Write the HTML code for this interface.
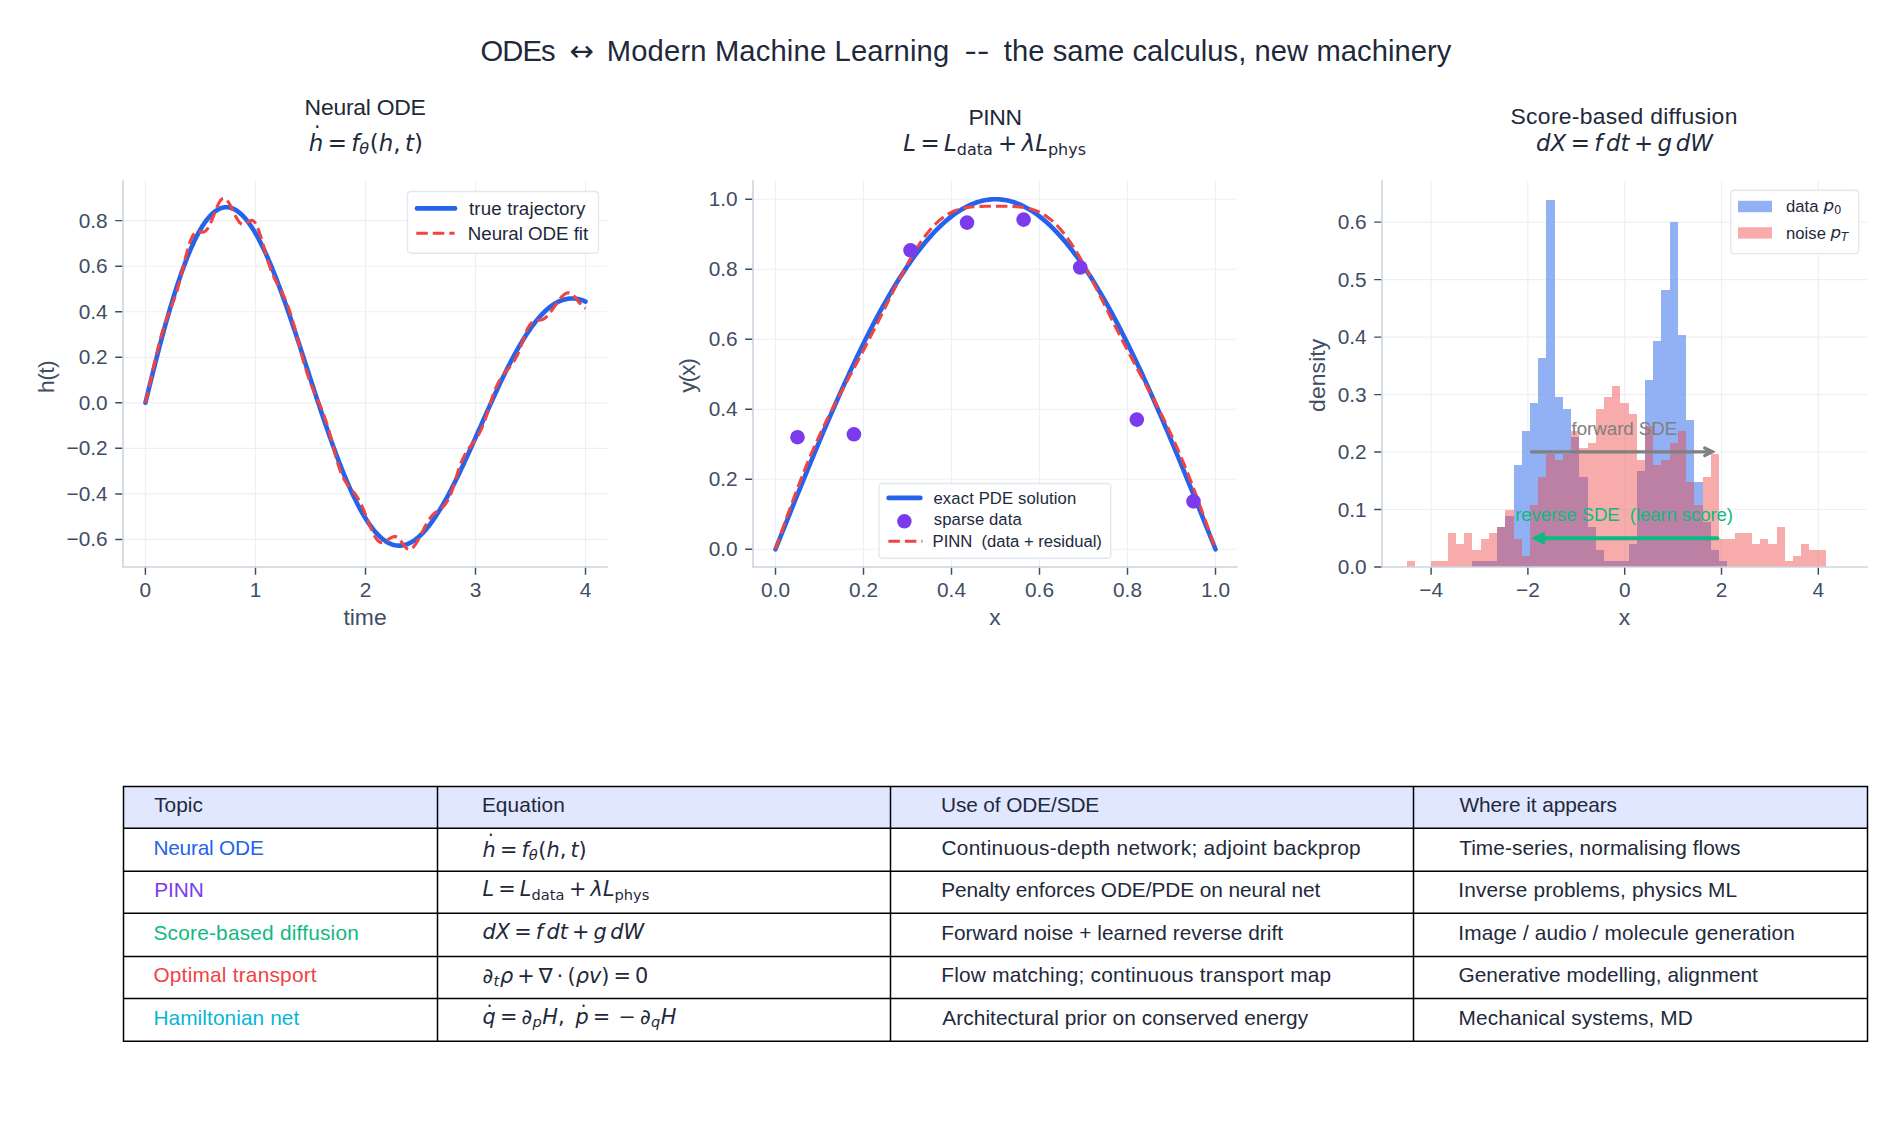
<!DOCTYPE html>
<html lang="en"><head><meta charset="utf-8"><title>ODEs and Modern Machine Learning</title>
<style>html,body{margin:0;padding:0;background:#fff;}svg{display:block;}svg text{white-space:pre;}</style></head>
<body>
<svg width="1904" height="1143" viewBox="0 0 1904 1143" font-family='"Liberation Sans", Arial, Helvetica, sans-serif'>
<rect width="1904" height="1143" fill="#ffffff"/>
<text x="480.41" y="61.4" font-size="29.17" fill="#1e293b" letter-spacing="-0.868" xml:space="preserve">ODEs</text>
<text x="569.6" y="61.4" font-size="29.17" fill="#1e293b" font-family='"DejaVu Sans", sans-serif' xml:space="preserve">↔</text>
<text x="606.79" y="61.4" font-size="29.17" fill="#1e293b" letter-spacing="0.166" xml:space="preserve">Modern Machine Learning</text>
<text x="964.64" y="61.4" font-size="29.17" fill="#1e293b" textLength="24.56" lengthAdjust="spacingAndGlyphs">--</text>
<text x="1003.86" y="61.4" font-size="29.17" fill="#1e293b" letter-spacing="0.060" xml:space="preserve">the same calculus, new machinery</text>
<path d="M145.4,181 V567 M255.5,181 V567 M365.5,181 V567 M475.5,181 V567 M585.5,181 V567 M123,539.4 H607 M123,493.9 H607 M123,448.3 H607 M123,402.8 H607 M123,357.3 H607 M123,311.7 H607 M123,266.2 H607 M123,220.6 H607 " stroke="#8fa0c0" stroke-opacity="0.17" stroke-width="1.15" fill="none"/>
<path d="M145.45,402.8 L146.55,398.26 L147.65,393.73 L148.75,389.23 L149.85,384.75 L150.95,380.29 L152.05,375.87 L153.15,371.47 L154.25,367.1 L155.35,362.76 L156.45,358.46 L157.55,354.19 L158.65,349.96 L159.75,345.77 L160.85,341.61 L161.95,337.5 L163.05,333.43 L164.15,329.4 L165.25,325.42 L166.35,321.49 L167.45,317.61 L168.55,313.77 L169.65,309.99 L170.75,306.26 L171.85,302.58 L172.95,298.96 L174.06,295.39 L175.16,291.89 L176.26,288.44 L177.36,285.05 L178.46,281.72 L179.56,278.45 L180.66,275.25 L181.76,272.11 L182.86,269.04 L183.96,266.03 L185.06,263.09 L186.16,260.22 L187.26,257.41 L188.36,254.68 L189.46,252.02 L190.56,249.42 L191.66,246.91 L192.76,244.46 L193.86,242.09 L194.96,239.79 L196.06,237.56 L197.16,235.42 L198.26,233.34 L199.36,231.35 L200.46,229.43 L201.56,227.59 L202.66,225.83 L203.76,224.14 L204.86,222.54 L205.96,221.01 L207.06,219.56 L208.16,218.2 L209.26,216.91 L210.36,215.7 L211.46,214.57 L212.56,213.53 L213.66,212.56 L214.76,211.67 L215.86,210.87 L216.96,210.14 L218.06,209.5 L219.16,208.94 L220.26,208.45 L221.36,208.05 L222.46,207.73 L223.56,207.48 L224.66,207.32 L225.76,207.24 L226.86,207.23 L227.96,207.31 L229.07,207.46 L230.17,207.69 L231.27,208 L232.37,208.39 L233.47,208.85 L234.57,209.39 L235.67,210 L236.77,210.69 L237.87,211.46 L238.97,212.3 L240.07,213.21 L241.17,214.2 L242.27,215.25 L243.37,216.38 L244.47,217.58 L245.57,218.85 L246.67,220.19 L247.77,221.6 L248.87,223.07 L249.97,224.61 L251.07,226.22 L252.17,227.89 L253.27,229.63 L254.37,231.42 L255.47,233.28 L256.57,235.21 L257.67,237.19 L258.77,239.23 L259.87,241.32 L260.97,243.48 L262.07,245.69 L263.17,247.95 L264.27,250.27 L265.37,252.64 L266.47,255.06 L267.57,257.53 L268.67,260.05 L269.77,262.62 L270.87,265.23 L271.97,267.89 L273.07,270.59 L274.17,273.34 L275.27,276.12 L276.37,278.95 L277.47,281.81 L278.57,284.72 L279.67,287.65 L280.77,290.63 L281.87,293.63 L282.98,296.67 L284.08,299.74 L285.18,302.84 L286.28,305.96 L287.38,309.12 L288.48,312.29 L289.58,315.5 L290.68,318.72 L291.78,321.96 L292.88,325.23 L293.98,328.51 L295.08,331.81 L296.18,335.13 L297.28,338.46 L298.38,341.8 L299.48,345.15 L300.58,348.51 L301.68,351.89 L302.78,355.26 L303.88,358.65 L304.98,362.04 L306.08,365.43 L307.18,368.82 L308.28,372.21 L309.38,375.61 L310.48,379 L311.58,382.38 L312.68,385.76 L313.78,389.13 L314.88,392.5 L315.98,395.86 L317.08,399.2 L318.18,402.54 L319.28,405.86 L320.38,409.16 L321.48,412.45 L322.58,415.73 L323.68,418.98 L324.78,422.22 L325.88,425.43 L326.98,428.62 L328.08,431.79 L329.18,434.94 L330.28,438.06 L331.38,441.15 L332.48,444.22 L333.58,447.25 L334.68,450.26 L335.78,453.23 L336.88,456.18 L337.99,459.09 L339.09,461.96 L340.19,464.8 L341.29,467.6 L342.39,470.37 L343.49,473.1 L344.59,475.79 L345.69,478.44 L346.79,481.04 L347.89,483.61 L348.99,486.13 L350.09,488.61 L351.19,491.05 L352.29,493.44 L353.39,495.78 L354.49,498.08 L355.59,500.32 L356.69,502.53 L357.79,504.68 L358.89,506.78 L359.99,508.83 L361.09,510.83 L362.19,512.78 L363.29,514.68 L364.39,516.52 L365.49,518.31 L366.59,520.05 L367.69,521.73 L368.79,523.36 L369.89,524.93 L370.99,526.45 L372.09,527.91 L373.19,529.32 L374.29,530.67 L375.39,531.96 L376.49,533.2 L377.59,534.37 L378.69,535.49 L379.79,536.55 L380.89,537.56 L381.99,538.5 L383.09,539.39 L384.19,540.22 L385.29,540.99 L386.39,541.7 L387.49,542.35 L388.59,542.94 L389.69,543.48 L390.79,543.95 L391.89,544.37 L393,544.73 L394.1,545.02 L395.2,545.26 L396.3,545.45 L397.4,545.57 L398.5,545.64 L399.6,545.64 L400.7,545.59 L401.8,545.49 L402.9,545.32 L404,545.1 L405.1,544.82 L406.2,544.49 L407.3,544.1 L408.4,543.66 L409.5,543.16 L410.6,542.6 L411.7,541.99 L412.8,541.33 L413.9,540.62 L415,539.85 L416.1,539.03 L417.2,538.15 L418.3,537.23 L419.4,536.26 L420.5,535.23 L421.6,534.16 L422.7,533.04 L423.8,531.87 L424.9,530.65 L426,529.39 L427.1,528.08 L428.2,526.72 L429.3,525.33 L430.4,523.88 L431.5,522.4 L432.6,520.87 L433.7,519.3 L434.8,517.69 L435.9,516.03 L437,514.34 L438.1,512.62 L439.2,510.85 L440.3,509.05 L441.4,507.21 L442.5,505.34 L443.6,503.43 L444.7,501.49 L445.8,499.52 L446.9,497.52 L448,495.49 L449.11,493.43 L450.21,491.34 L451.31,489.22 L452.41,487.07 L453.51,484.91 L454.61,482.71 L455.71,480.49 L456.81,478.25 L457.91,475.99 L459.01,473.71 L460.11,471.41 L461.21,469.09 L462.31,466.75 L463.41,464.4 L464.51,462.03 L465.61,459.65 L466.71,457.25 L467.81,454.84 L468.91,452.42 L470.01,449.99 L471.11,447.55 L472.21,445.1 L473.31,442.65 L474.41,440.18 L475.51,437.72 L476.61,435.25 L477.71,432.77 L478.81,430.29 L479.91,427.82 L481.01,425.34 L482.11,422.86 L483.21,420.38 L484.31,417.91 L485.41,415.44 L486.51,412.98 L487.61,410.52 L488.71,408.07 L489.81,405.62 L490.91,403.19 L492.01,400.76 L493.11,398.35 L494.21,395.94 L495.31,393.55 L496.41,391.17 L497.51,388.81 L498.61,386.46 L499.71,384.12 L500.81,381.81 L501.91,379.51 L503.01,377.23 L504.12,374.97 L505.22,372.73 L506.32,370.51 L507.42,368.31 L508.52,366.14 L509.62,363.98 L510.72,361.86 L511.82,359.75 L512.92,357.68 L514.02,355.63 L515.12,353.61 L516.22,351.61 L517.32,349.64 L518.42,347.71 L519.52,345.8 L520.62,343.92 L521.72,342.08 L522.82,340.27 L523.92,338.48 L525.02,336.74 L526.12,335.02 L527.22,333.34 L528.32,331.7 L529.42,330.09 L530.52,328.51 L531.62,326.97 L532.72,325.47 L533.82,324.01 L534.92,322.58 L536.02,321.19 L537.12,319.84 L538.22,318.53 L539.32,317.26 L540.42,316.03 L541.52,314.84 L542.62,313.68 L543.72,312.57 L544.82,311.5 L545.92,310.47 L547.02,309.48 L548.12,308.53 L549.22,307.63 L550.32,306.77 L551.42,305.94 L552.52,305.17 L553.62,304.43 L554.72,303.74 L555.82,303.08 L556.92,302.48 L558.02,301.91 L559.13,301.39 L560.23,300.91 L561.33,300.47 L562.43,300.08 L563.53,299.73 L564.63,299.42 L565.73,299.16 L566.83,298.93 L567.93,298.76 L569.03,298.62 L570.13,298.53 L571.23,298.47 L572.33,298.47 L573.43,298.5 L574.53,298.57 L575.63,298.69 L576.73,298.85 L577.83,299.05 L578.93,299.29 L580.03,299.57 L581.13,299.89 L582.23,300.25 L583.33,300.65 L584.43,301.1 L585.53,301.58" stroke="#2563eb" stroke-width="4.6" fill="none" stroke-linecap="round" stroke-linejoin="round"/>
<path d="M145.45,402.8 L146.55,398.19 L147.65,393.49 L148.75,388.7 L149.85,383.83 L150.95,378.92 L152.05,373.99 L153.15,369.06 L154.25,364.17 L155.35,359.35 L156.45,354.62 L157.55,350.01 L158.65,345.54 L159.75,341.23 L160.85,337.08 L161.95,333.18 L163.05,329.53 L164.15,326.1 L165.25,322.87 L166.35,319.81 L167.45,316.87 L168.55,314.02 L169.65,311.21 L170.75,308.39 L171.85,305.53 L172.95,302.58 L174.06,299.53 L175.16,296.33 L176.26,292.99 L177.36,289.43 L178.46,285.61 L179.56,281.54 L180.66,277.27 L181.76,272.86 L182.86,268.37 L183.96,263.87 L185.06,259.43 L186.16,255.14 L187.26,251.06 L188.36,247.26 L189.46,243.8 L190.56,240.71 L191.66,238.03 L192.76,235.81 L193.86,234.13 L194.96,232.94 L196.06,232.2 L197.16,231.82 L198.26,231.72 L199.36,231.8 L200.46,231.96 L201.56,232.1 L202.66,232.1 L203.76,231.9 L204.86,231.4 L205.96,230.57 L207.06,229.35 L208.16,227.77 L209.26,225.84 L210.36,223.59 L211.46,221.07 L212.56,218.36 L213.66,215.51 L214.76,212.62 L215.86,209.79 L216.96,207.11 L218.06,204.66 L219.16,202.52 L220.26,200.79 L221.36,199.5 L222.46,198.7 L223.56,198.41 L224.66,198.57 L225.76,199.16 L226.86,200.15 L227.96,201.51 L229.07,203.18 L230.17,205.11 L231.27,207.23 L232.37,209.47 L233.47,211.76 L234.57,214.02 L235.67,216.2 L236.77,218.22 L237.87,220.05 L238.97,221.63 L240.07,222.94 L241.17,223.94 L242.27,224.52 L243.37,224.66 L244.47,224.42 L245.57,223.88 L246.67,223.13 L247.77,222.29 L248.87,221.47 L249.97,220.81 L251.07,220.43 L252.17,220.42 L253.27,220.89 L254.37,221.9 L255.47,223.49 L256.57,225.57 L257.67,228.01 L258.77,230.8 L259.87,233.91 L260.97,237.27 L262.07,240.85 L263.17,244.58 L264.27,248.4 L265.37,252.24 L266.47,256.03 L267.57,259.71 L268.67,263.24 L269.77,266.55 L270.87,269.63 L271.97,272.44 L273.07,275.05 L274.17,277.53 L275.27,279.87 L276.37,282.1 L277.47,284.25 L278.57,286.33 L279.67,288.38 L280.77,290.44 L281.87,292.54 L282.98,294.72 L284.08,297 L285.18,299.43 L286.28,302.02 L287.38,304.8 L288.48,307.77 L289.58,310.96 L290.68,314.33 L291.78,317.89 L292.88,321.62 L293.98,325.5 L295.08,329.51 L296.18,333.62 L297.28,337.8 L298.38,342.02 L299.48,346.24 L300.58,350.43 L301.68,354.56 L302.78,358.59 L303.88,362.51 L304.98,366.29 L306.08,369.91 L307.18,373.37 L308.28,376.68 L309.38,379.83 L310.48,382.83 L311.58,385.7 L312.68,388.46 L313.78,391.12 L314.88,393.7 L315.98,396.23 L317.08,398.74 L318.18,401.26 L319.28,403.8 L320.38,406.4 L321.48,409.07 L322.58,411.85 L323.68,414.73 L324.78,417.74 L325.88,420.88 L326.98,424.21 L328.08,427.79 L329.18,431.6 L330.28,435.6 L331.38,439.73 L332.48,443.95 L333.58,448.18 L334.68,452.36 L335.78,456.43 L336.88,460.33 L337.99,463.99 L339.09,467.38 L340.19,470.47 L341.29,473.26 L342.39,475.8 L343.49,478.09 L344.59,480.16 L345.69,482.02 L346.79,483.71 L347.89,485.24 L348.99,486.65 L350.09,487.99 L351.19,489.28 L352.29,490.56 L353.39,491.88 L354.49,493.27 L355.59,494.74 L356.69,496.34 L357.79,498.08 L358.89,499.97 L359.99,502.03 L361.09,504.25 L362.19,506.63 L363.29,509.16 L364.39,511.82 L365.49,514.57 L366.59,517.38 L367.69,520.21 L368.79,523.03 L369.89,525.78 L370.99,528.44 L372.09,530.95 L373.19,533.29 L374.29,535.41 L375.39,537.3 L376.49,538.93 L377.59,540.28 L378.69,541.35 L379.79,542.08 L380.89,542.49 L381.99,542.61 L383.09,542.45 L384.19,542.08 L385.29,541.52 L386.39,540.83 L387.49,540.06 L388.59,539.27 L389.69,538.51 L390.79,537.82 L391.89,537.26 L393,536.86 L394.1,536.64 L395.2,536.63 L396.3,536.87 L397.4,537.43 L398.5,538.3 L399.6,539.45 L400.7,540.81 L401.8,542.31 L402.9,543.86 L404,545.38 L405.1,546.78 L406.2,547.96 L407.3,548.86 L408.4,549.39 L409.5,549.52 L410.6,549.2 L411.7,548.52 L412.8,547.58 L413.9,546.41 L415,545.01 L416.1,543.41 L417.2,541.63 L418.3,539.7 L419.4,537.65 L420.5,535.52 L421.6,533.33 L422.7,531.13 L423.8,528.94 L424.9,526.81 L426,524.75 L427.1,522.8 L428.2,520.97 L429.3,519.28 L430.4,517.73 L431.5,516.34 L432.6,515.1 L433.7,514 L434.8,513.02 L435.9,512.13 L437,511.33 L438.1,510.56 L439.2,509.8 L440.3,509.01 L441.4,508.17 L442.5,507.22 L443.6,506.14 L444.7,504.9 L445.8,503.48 L446.9,501.86 L448,500.02 L449.11,497.94 L450.21,495.49 L451.31,492.69 L452.41,489.56 L453.51,486.19 L454.61,482.64 L455.71,479 L456.81,475.36 L457.91,471.8 L459.01,468.42 L460.11,465.28 L461.21,462.44 L462.31,459.92 L463.41,457.66 L464.51,455.55 L465.61,453.6 L466.71,451.78 L467.81,450.09 L468.91,448.5 L470.01,446.98 L471.11,445.51 L472.21,444.06 L473.31,442.61 L474.41,441.11 L475.51,439.54 L476.61,437.88 L477.71,436.09 L478.81,434.17 L479.91,432.08 L481.01,429.83 L482.11,427.41 L483.21,424.76 L484.31,421.87 L485.41,418.77 L486.51,415.5 L487.61,412.09 L488.71,408.6 L489.81,405.09 L490.91,401.62 L492.01,398.24 L493.11,395.01 L494.21,391.98 L495.31,389.17 L496.41,386.62 L497.51,384.3 L498.61,382.16 L499.71,380.18 L500.81,378.36 L501.91,376.69 L503.01,375.13 L504.12,373.68 L505.22,372.31 L506.32,370.99 L507.42,369.69 L508.52,368.39 L509.62,367.06 L510.72,365.68 L511.82,364.22 L512.92,362.67 L514.02,361.01 L515.12,359.22 L516.22,357.3 L517.32,355.16 L518.42,352.71 L519.52,349.99 L520.62,347.06 L521.72,343.97 L522.82,340.84 L523.92,337.73 L525.02,334.74 L526.12,331.97 L527.22,329.48 L528.32,327.32 L529.42,325.53 L530.52,324.08 L531.62,322.91 L532.72,322.01 L533.82,321.34 L534.92,320.87 L536.02,320.57 L537.12,320.39 L538.22,320.27 L539.32,320.16 L540.42,320.01 L541.52,319.78 L542.62,319.43 L543.72,318.91 L544.82,318.21 L545.92,317.3 L547.02,316.23 L548.12,315.05 L549.22,313.76 L550.32,312.38 L551.42,310.91 L552.52,309.37 L553.62,307.78 L554.72,306.16 L555.82,304.54 L556.92,302.93 L558.02,301.37 L559.13,299.87 L560.23,298.47 L561.33,297.18 L562.43,296.03 L563.53,295.03 L564.63,294.2 L565.73,293.55 L566.83,293.09 L567.93,292.84 L569.03,292.82 L570.13,293.09 L571.23,293.63 L572.33,294.41 L573.43,295.41 L574.53,296.59 L575.63,297.9 L576.73,299.3 L577.83,300.75 L578.93,302.18 L580.03,303.57 L581.13,304.85 L582.23,306.01 L583.33,307 L584.43,307.8 L585.53,308.41" stroke="#ef4444" stroke-width="3.1" fill="none" stroke-dasharray="11.5 5" stroke-linejoin="round"/>
<path d="M123,180.2 V567.8" stroke="#cbd5e1" stroke-width="1.6" fill="none"/>
<path d="M122.2,567 H607.8" stroke="#cbd5e1" stroke-width="1.6" fill="none"/>
<path d="M145.4,567.8 v7 M255.5,567.8 v7 M365.5,567.8 v7 M475.5,567.8 v7 M585.5,567.8 v7 M122.2,539.4 h-7 M122.2,493.9 h-7 M122.2,448.3 h-7 M122.2,402.8 h-7 M122.2,357.3 h-7 M122.2,311.7 h-7 M122.2,266.2 h-7 M122.2,220.6 h-7 " stroke="#3d4b60" stroke-width="1.45" fill="none"/>
<text x="145.4" y="597.0" font-size="20.83" fill="#404e64" text-anchor="middle" xml:space="preserve">0</text>
<text x="255.5" y="597.0" font-size="20.83" fill="#404e64" text-anchor="middle" xml:space="preserve">1</text>
<text x="365.5" y="597.0" font-size="20.83" fill="#404e64" text-anchor="middle" xml:space="preserve">2</text>
<text x="475.5" y="597.0" font-size="20.83" fill="#404e64" text-anchor="middle" xml:space="preserve">3</text>
<text x="585.5" y="597.0" font-size="20.83" fill="#404e64" text-anchor="middle" xml:space="preserve">4</text>
<text x="107.7" y="546.4" font-size="20.83" fill="#404e64" text-anchor="end" xml:space="preserve">−0.6</text>
<text x="107.7" y="500.9" font-size="20.83" fill="#404e64" text-anchor="end" xml:space="preserve">−0.4</text>
<text x="107.7" y="455.3" font-size="20.83" fill="#404e64" text-anchor="end" xml:space="preserve">−0.2</text>
<text x="107.7" y="409.8" font-size="20.83" fill="#404e64" text-anchor="end" xml:space="preserve">0.0</text>
<text x="107.7" y="364.3" font-size="20.83" fill="#404e64" text-anchor="end" xml:space="preserve">0.2</text>
<text x="107.7" y="318.7" font-size="20.83" fill="#404e64" text-anchor="end" xml:space="preserve">0.4</text>
<text x="107.7" y="273.2" font-size="20.83" fill="#404e64" text-anchor="end" xml:space="preserve">0.6</text>
<text x="107.7" y="227.6" font-size="20.83" fill="#404e64" text-anchor="end" xml:space="preserve">0.8</text>
<text x="365.0" y="624.5" font-size="22.9" fill="#404e64" text-anchor="middle" xml:space="preserve">time</text>
<text transform="translate(54.0,393.00) rotate(-90)" font-size="22.9" fill="#404e64" letter-spacing="-0.558">h(t)</text>
<rect x="407.5" y="191.5" width="191.0" height="61.80000000000001" rx="3.5" fill="#ffffff" fill-opacity="0.92" stroke="#e2e8f0" stroke-width="1.4"/>
<path d="M417,208.4 H455" stroke="#2563eb" stroke-width="4.6" stroke-linecap="round"/>
<path d="M416.3,233.3 H454.6" stroke="#ef4444" stroke-width="3.1" stroke-dasharray="11.5 5"/>
<text x="469.02" y="215.0" font-size="18.75" fill="#1e293b" letter-spacing="0.123" xml:space="preserve">true trajectory</text>
<text x="467.85" y="240.2" font-size="18.75" fill="#1e293b" letter-spacing="-0.043" xml:space="preserve">Neural ODE fit</text>
<text x="304.61" y="114.9" font-size="22.9" fill="#1e293b" letter-spacing="-0.236" xml:space="preserve">Neural ODE</text>
<path d="M775.5,181 V567 M863.5,181 V567 M951.5,181 V567 M1039.5,181 V567 M1127.5,181 V567 M1215.5,181 V567 M753,549.2 H1237 M753,479.2 H1237 M753,409.2 H1237 M753,339.2 H1237 M753,269.2 H1237 M753,199.2 H1237 " stroke="#8fa0c0" stroke-opacity="0.17" stroke-width="1.15" fill="none"/>
<path d="M775.5,549.25 L777.7,543.75 L779.9,538.26 L782.1,532.76 L784.3,527.27 L786.5,521.79 L788.7,516.31 L790.9,510.84 L793.1,505.38 L795.3,499.93 L797.5,494.5 L799.7,489.07 L801.9,483.67 L804.1,478.27 L806.3,472.9 L808.5,467.54 L810.7,462.21 L812.9,456.89 L815.1,451.6 L817.3,446.34 L819.5,441.09 L821.7,435.88 L823.9,430.69 L826.1,425.53 L828.3,420.41 L830.5,415.31 L832.7,410.25 L834.9,405.22 L837.1,400.23 L839.3,395.27 L841.5,390.35 L843.7,385.47 L845.9,380.64 L848.1,375.84 L850.3,371.09 L852.5,366.38 L854.7,361.71 L856.9,357.09 L859.1,352.52 L861.3,348 L863.5,343.53 L865.7,339.1 L867.9,334.73 L870.1,330.42 L872.3,326.15 L874.5,321.94 L876.7,317.79 L878.9,313.7 L881.1,309.66 L883.3,305.68 L885.5,301.76 L887.7,297.91 L889.9,294.11 L892.1,290.38 L894.3,286.71 L896.5,283.11 L898.7,279.57 L900.9,276.1 L903.1,272.7 L905.3,269.36 L907.5,266.09 L909.7,262.9 L911.9,259.77 L914.1,256.72 L916.3,253.74 L918.5,250.83 L920.7,247.99 L922.9,245.23 L925.1,242.54 L927.3,239.93 L929.5,237.4 L931.7,234.94 L933.9,232.56 L936.1,230.26 L938.3,228.04 L940.5,225.89 L942.7,223.83 L944.9,221.84 L947.1,219.94 L949.3,218.12 L951.5,216.38 L953.7,214.72 L955.9,213.15 L958.1,211.65 L960.3,210.25 L962.5,208.92 L964.7,207.68 L966.9,206.52 L969.1,205.45 L971.3,204.46 L973.5,203.56 L975.7,202.74 L977.9,202.01 L980.1,201.36 L982.3,200.8 L984.5,200.33 L986.7,199.94 L988.9,199.64 L991.1,199.42 L993.3,199.29 L995.5,199.25 L997.7,199.29 L999.9,199.42 L1002.1,199.64 L1004.3,199.94 L1006.5,200.33 L1008.7,200.8 L1010.9,201.36 L1013.1,202.01 L1015.3,202.74 L1017.5,203.56 L1019.7,204.46 L1021.9,205.45 L1024.1,206.52 L1026.3,207.68 L1028.5,208.92 L1030.7,210.25 L1032.9,211.65 L1035.1,213.15 L1037.3,214.72 L1039.5,216.38 L1041.7,218.12 L1043.9,219.94 L1046.1,221.84 L1048.3,223.83 L1050.5,225.89 L1052.7,228.04 L1054.9,230.26 L1057.1,232.56 L1059.3,234.94 L1061.5,237.4 L1063.7,239.93 L1065.9,242.54 L1068.1,245.23 L1070.3,247.99 L1072.5,250.83 L1074.7,253.74 L1076.9,256.72 L1079.1,259.77 L1081.3,262.9 L1083.5,266.09 L1085.7,269.36 L1087.9,272.7 L1090.1,276.1 L1092.3,279.57 L1094.5,283.11 L1096.7,286.71 L1098.9,290.38 L1101.1,294.11 L1103.3,297.91 L1105.5,301.76 L1107.7,305.68 L1109.9,309.66 L1112.1,313.7 L1114.3,317.79 L1116.5,321.94 L1118.7,326.15 L1120.9,330.42 L1123.1,334.73 L1125.3,339.1 L1127.5,343.53 L1129.7,348 L1131.9,352.52 L1134.1,357.09 L1136.3,361.71 L1138.5,366.38 L1140.7,371.09 L1142.9,375.84 L1145.1,380.64 L1147.3,385.47 L1149.5,390.35 L1151.7,395.27 L1153.9,400.23 L1156.1,405.22 L1158.3,410.25 L1160.5,415.31 L1162.7,420.41 L1164.9,425.53 L1167.1,430.69 L1169.3,435.88 L1171.5,441.09 L1173.7,446.34 L1175.9,451.6 L1178.1,456.89 L1180.3,462.21 L1182.5,467.54 L1184.7,472.9 L1186.9,478.27 L1189.1,483.67 L1191.3,489.07 L1193.5,494.5 L1195.7,499.93 L1197.9,505.38 L1200.1,510.84 L1202.3,516.31 L1204.5,521.79 L1206.7,527.27 L1208.9,532.76 L1211.1,538.26 L1213.3,543.75 L1215.5,549.25" stroke="#2563eb" stroke-width="4.6" fill="none" stroke-linecap="round" stroke-linejoin="round"/>
<path d="M775.5,549.25 L777.7,542.98 L779.9,536.73 L782.1,530.5 L784.3,524.29 L786.5,518.13 L788.7,512.02 L790.9,505.97 L793.1,499.99 L795.3,494.08 L797.5,488.26 L799.7,482.53 L801.9,476.89 L804.1,471.34 L806.3,465.9 L808.5,460.57 L810.7,455.33 L812.9,450.2 L815.1,445.18 L817.3,440.26 L819.5,435.43 L821.7,430.7 L823.9,426.06 L826.1,421.51 L828.3,417.03 L830.5,412.63 L832.7,408.3 L834.9,404.02 L837.1,399.79 L839.3,395.6 L841.5,391.45 L843.7,387.32 L845.9,383.21 L848.1,379.11 L850.3,375.02 L852.5,370.92 L854.7,366.81 L856.9,362.69 L859.1,358.55 L861.3,354.38 L863.5,350.18 L865.7,345.96 L867.9,341.7 L870.1,337.41 L872.3,333.1 L874.5,328.75 L876.7,324.38 L878.9,319.98 L881.1,315.57 L883.3,311.14 L885.5,306.71 L887.7,302.28 L889.9,297.86 L892.1,293.46 L894.3,289.08 L896.5,284.74 L898.7,280.45 L900.9,276.21 L903.1,272.04 L905.3,267.94 L907.5,263.93 L909.7,260.02 L911.9,256.21 L914.1,252.51 L916.3,248.94 L918.5,245.5 L920.7,242.2 L922.9,239.04 L925.1,236.03 L927.3,233.18 L929.5,230.48 L931.7,227.95 L933.9,225.57 L936.1,223.36 L938.3,221.31 L940.5,219.43 L942.7,217.69 L944.9,216.12 L947.1,214.69 L949.3,213.41 L951.5,212.27 L953.7,211.25 L955.9,210.37 L958.1,209.6 L960.3,208.93 L962.5,208.37 L964.7,207.9 L966.9,207.51 L969.1,207.19 L971.3,206.94 L973.5,206.74 L975.7,206.58 L977.9,206.47 L980.1,206.39 L982.3,206.33 L984.5,206.3 L986.7,206.27 L988.9,206.26 L991.1,206.25 L993.3,206.25 L995.5,206.25 L997.7,206.25 L999.9,206.25 L1002.1,206.26 L1004.3,206.27 L1006.5,206.3 L1008.7,206.33 L1010.9,206.39 L1013.1,206.47 L1015.3,206.58 L1017.5,206.74 L1019.7,206.94 L1021.9,207.19 L1024.1,207.51 L1026.3,207.9 L1028.5,208.37 L1030.7,208.93 L1032.9,209.6 L1035.1,210.37 L1037.3,211.25 L1039.5,212.27 L1041.7,213.41 L1043.9,214.69 L1046.1,216.12 L1048.3,217.69 L1050.5,219.43 L1052.7,221.31 L1054.9,223.36 L1057.1,225.57 L1059.3,227.95 L1061.5,230.48 L1063.7,233.18 L1065.9,236.03 L1068.1,239.04 L1070.3,242.2 L1072.5,245.5 L1074.7,248.94 L1076.9,252.51 L1079.1,256.21 L1081.3,260.02 L1083.5,263.93 L1085.7,267.94 L1087.9,272.04 L1090.1,276.21 L1092.3,280.45 L1094.5,284.74 L1096.7,289.08 L1098.9,293.46 L1101.1,297.86 L1103.3,302.28 L1105.5,306.71 L1107.7,311.14 L1109.9,315.57 L1112.1,319.98 L1114.3,324.38 L1116.5,328.75 L1118.7,333.1 L1120.9,337.41 L1123.1,341.7 L1125.3,345.96 L1127.5,350.18 L1129.7,354.38 L1131.9,358.55 L1134.1,362.69 L1136.3,366.81 L1138.5,370.92 L1140.7,375.02 L1142.9,379.11 L1145.1,383.21 L1147.3,387.32 L1149.5,391.45 L1151.7,395.6 L1153.9,399.79 L1156.1,404.02 L1158.3,408.3 L1160.5,412.63 L1162.7,417.03 L1164.9,421.51 L1167.1,426.06 L1169.3,430.7 L1171.5,435.43 L1173.7,440.26 L1175.9,445.18 L1178.1,450.2 L1180.3,455.33 L1182.5,460.57 L1184.7,465.9 L1186.9,471.34 L1189.1,476.89 L1191.3,482.53 L1193.5,488.26 L1195.7,494.08 L1197.9,499.99 L1200.1,505.97 L1202.3,512.02 L1204.5,518.13 L1206.7,524.29 L1208.9,530.5 L1211.1,536.73 L1213.3,542.98 L1215.5,549.25" stroke="#ef4444" stroke-width="3.1" fill="none" stroke-dasharray="11.5 5" stroke-linejoin="round"/>
<circle cx="797.5" cy="437.2" r="7.3" fill="#7c3aed"/>
<circle cx="853.9" cy="434.3" r="7.3" fill="#7c3aed"/>
<circle cx="910.5" cy="250.3" r="7.3" fill="#7c3aed"/>
<circle cx="967.0" cy="222.6" r="7.3" fill="#7c3aed"/>
<circle cx="1023.6" cy="219.6" r="7.3" fill="#7c3aed"/>
<circle cx="1080.2" cy="267.5" r="7.3" fill="#7c3aed"/>
<circle cx="1136.8" cy="419.6" r="7.3" fill="#7c3aed"/>
<circle cx="1193.5" cy="501.4" r="7.3" fill="#7c3aed"/>
<path d="M753,180.2 V567.8" stroke="#cbd5e1" stroke-width="1.6" fill="none"/>
<path d="M752.2,567 H1237.8" stroke="#cbd5e1" stroke-width="1.6" fill="none"/>
<path d="M775.5,567.8 v7 M863.5,567.8 v7 M951.5,567.8 v7 M1039.5,567.8 v7 M1127.5,567.8 v7 M1215.5,567.8 v7 M752.2,549.2 h-7 M752.2,479.2 h-7 M752.2,409.2 h-7 M752.2,339.2 h-7 M752.2,269.2 h-7 M752.2,199.2 h-7 " stroke="#3d4b60" stroke-width="1.45" fill="none"/>
<text x="775.5" y="597.0" font-size="20.83" fill="#404e64" text-anchor="middle" xml:space="preserve">0.0</text>
<text x="863.5" y="597.0" font-size="20.83" fill="#404e64" text-anchor="middle" xml:space="preserve">0.2</text>
<text x="951.5" y="597.0" font-size="20.83" fill="#404e64" text-anchor="middle" xml:space="preserve">0.4</text>
<text x="1039.5" y="597.0" font-size="20.83" fill="#404e64" text-anchor="middle" xml:space="preserve">0.6</text>
<text x="1127.5" y="597.0" font-size="20.83" fill="#404e64" text-anchor="middle" xml:space="preserve">0.8</text>
<text x="1215.5" y="597.0" font-size="20.83" fill="#404e64" text-anchor="middle" xml:space="preserve">1.0</text>
<text x="737.7" y="556.2" font-size="20.83" fill="#404e64" text-anchor="end" xml:space="preserve">0.0</text>
<text x="737.7" y="486.2" font-size="20.83" fill="#404e64" text-anchor="end" xml:space="preserve">0.2</text>
<text x="737.7" y="416.2" font-size="20.83" fill="#404e64" text-anchor="end" xml:space="preserve">0.4</text>
<text x="737.7" y="346.2" font-size="20.83" fill="#404e64" text-anchor="end" xml:space="preserve">0.6</text>
<text x="737.7" y="276.2" font-size="20.83" fill="#404e64" text-anchor="end" xml:space="preserve">0.8</text>
<text x="737.7" y="206.2" font-size="20.83" fill="#404e64" text-anchor="end" xml:space="preserve">1.0</text>
<text x="995.0" y="624.5" font-size="22.9" fill="#404e64" text-anchor="middle" xml:space="preserve">x</text>
<text transform="translate(694.8,392.76) rotate(-90)" font-size="22.9" fill="#404e64" letter-spacing="-1.166">y(x)</text>
<rect x="879" y="483.5" width="231.70000000000005" height="74.79999999999995" rx="3.5" fill="#ffffff" fill-opacity="0.92" stroke="#e2e8f0" stroke-width="1.4"/>
<path d="M888.6,497.9 H920.4" stroke="#2563eb" stroke-width="4.6" stroke-linecap="round"/>
<circle cx="904.4" cy="521.3" r="7.2" fill="#7c3aed"/>
<path d="M888.4,541.2 H922.4" stroke="#ef4444" stroke-width="3.1" stroke-dasharray="11.5 5"/>
<text x="933.49" y="503.7" font-size="16.67" fill="#1e293b" letter-spacing="0.119" xml:space="preserve">exact PDE solution</text>
<text x="933.84" y="525.3" font-size="16.67" fill="#1e293b" letter-spacing="0.082" xml:space="preserve">sparse data</text>
<text x="932.62" y="547.0" font-size="16.67" fill="#1e293b" letter-spacing="-0.028" xml:space="preserve">PINN  (data + residual)</text>
<text x="968.51" y="124.6" font-size="22.9" fill="#1e293b" letter-spacing="-0.417" xml:space="preserve">PINN</text>
<path d="M1472.42,567 L1472.42,561.35 L1480.64,561.35 L1480.64,561.35 L1488.86,561.35 L1488.86,561.35 L1497.08,561.35 L1497.08,527.43 L1505.31,527.43 L1505.31,516.13 L1513.53,516.13 L1513.53,465.26 L1521.75,465.26 L1521.75,431.35 L1529.97,431.35 L1529.97,403.09 L1538.19,403.09 L1538.19,357.87 L1546.41,357.87 L1546.41,199.61 L1554.63,199.61 L1554.63,397.43 L1562.85,397.43 L1562.85,408.74 L1571.07,408.74 L1571.07,437 L1579.29,437 L1579.29,476.56 L1587.51,476.56 L1587.51,527.43 L1595.73,527.43 L1595.73,550.04 L1603.95,550.04 L1603.95,561.35 L1612.17,561.35 L1612.17,561.35 L1620.39,561.35 L1620.39,561.35 L1628.61,561.35 L1628.61,544.39 L1636.83,544.39 L1636.83,470.91 L1645.05,470.91 L1645.05,380.48 L1653.27,380.48 L1653.27,340.91 L1661.49,340.91 L1661.49,290.04 L1669.71,290.04 L1669.71,222.22 L1677.93,222.22 L1677.93,335.26 L1686.15,335.26 L1686.15,420.04 L1694.37,420.04 L1694.37,482.22 L1702.59,482.22 L1702.59,521.78 L1710.81,521.78 L1710.81,550.04 L1719.03,550.04 L1719.03,561.35 L1727.25,561.35 L1727.25,567 Z " fill="#2563eb" fill-opacity="0.5" shape-rendering="crispEdges"/>
<path d="M1406.66,567 L1406.66,561.35 L1414.88,561.35 L1414.88,567 Z M1431.32,567 L1431.32,561.35 L1439.54,561.35 L1439.54,561.35 L1447.76,561.35 L1447.76,533.09 L1455.98,533.09 L1455.98,544.39 L1464.2,544.39 L1464.2,533.09 L1472.42,533.09 L1472.42,550.04 L1480.64,550.04 L1480.64,538.74 L1488.86,538.74 L1488.86,533.09 L1497.08,533.09 L1497.08,527.43 L1505.31,527.43 L1505.31,510.48 L1513.53,510.48 L1513.53,538.74 L1521.75,538.74 L1521.75,555.7 L1529.97,555.7 L1529.97,504.83 L1538.19,504.83 L1538.19,476.56 L1546.41,476.56 L1546.41,453.96 L1554.63,453.96 L1554.63,459.61 L1562.85,459.61 L1562.85,453.96 L1571.07,453.96 L1571.07,431.35 L1579.29,431.35 L1579.29,448.3 L1587.51,448.3 L1587.51,442.65 L1595.73,442.65 L1595.73,408.74 L1603.95,408.74 L1603.95,397.43 L1612.17,397.43 L1612.17,386.13 L1620.39,386.13 L1620.39,403.09 L1628.61,403.09 L1628.61,414.39 L1636.83,414.39 L1636.83,459.61 L1645.05,459.61 L1645.05,425.7 L1653.27,425.7 L1653.27,465.26 L1661.49,465.26 L1661.49,459.61 L1669.71,459.61 L1669.71,442.65 L1677.93,442.65 L1677.93,431.35 L1686.15,431.35 L1686.15,482.22 L1694.37,482.22 L1694.37,504.83 L1702.59,504.83 L1702.59,476.56 L1710.81,476.56 L1710.81,453.96 L1719.03,453.96 L1719.03,538.74 L1727.25,538.74 L1727.25,538.74 L1735.47,538.74 L1735.47,533.09 L1743.69,533.09 L1743.69,533.09 L1751.92,533.09 L1751.92,544.39 L1760.14,544.39 L1760.14,538.74 L1768.36,538.74 L1768.36,544.39 L1776.58,544.39 L1776.58,527.43 L1784.8,527.43 L1784.8,561.35 L1793.02,561.35 L1793.02,555.7 L1801.24,555.7 L1801.24,544.39 L1809.46,544.39 L1809.46,550.04 L1817.68,550.04 L1817.68,550.04 L1825.9,550.04 L1825.9,567 Z " fill="#ef4444" fill-opacity="0.45" shape-rendering="crispEdges"/>
<path d="M1431.1,181 V567 M1527.9,181 V567 M1624.7,181 V567 M1721.5,181 V567 M1818.3,181 V567 M1382,509.5 H1867 M1382,452.0 H1867 M1382,394.6 H1867 M1382,337.1 H1867 M1382,279.6 H1867 M1382,222.1 H1867 " stroke="#8fa0c0" stroke-opacity="0.17" stroke-width="1.15" fill="none"/>
<path d="M1531.5,451.8 H1712.0" stroke="#808080" stroke-width="3.3" stroke-linecap="round" fill="none"/>
<path d="M1704.7,448.0 L1712.2,451.8 L1704.7,455.6" stroke="#808080" stroke-width="3.3" stroke-linecap="round" stroke-linejoin="miter" fill="none"/>
<path d="M1535.9,538.2 H1717.3" stroke="#10b981" stroke-width="4.1" stroke-linecap="round" fill="none"/>
<path d="M1543.4,534.4 L1535.7,538.2 L1543.4,542.0" stroke="#10b981" stroke-width="4.1" stroke-linecap="round" stroke-linejoin="miter" fill="none"/>
<text x="1571.62" y="434.8" font-size="18.75" fill="#808080" letter-spacing="-0.063" xml:space="preserve">forward SDE</text>
<text x="1515.18" y="520.7" font-size="18.75" fill="#10b981" letter-spacing="-0.160" xml:space="preserve">reverse SDE  (learn score)</text>
<path d="M1382,180.2 V567.8" stroke="#cbd5e1" stroke-width="1.6" fill="none"/>
<path d="M1381.2,567 H1867.8" stroke="#cbd5e1" stroke-width="1.6" fill="none"/>
<path d="M1431.1,567.8 v7 M1527.9,567.8 v7 M1624.7,567.8 v7 M1721.5,567.8 v7 M1818.3,567.8 v7 M1381.2,567.0 h-7 M1381.2,509.5 h-7 M1381.2,452.0 h-7 M1381.2,394.6 h-7 M1381.2,337.1 h-7 M1381.2,279.6 h-7 M1381.2,222.1 h-7 " stroke="#3d4b60" stroke-width="1.45" fill="none"/>
<text x="1431.1" y="597.0" font-size="20.83" fill="#404e64" text-anchor="middle" xml:space="preserve">−4</text>
<text x="1527.9" y="597.0" font-size="20.83" fill="#404e64" text-anchor="middle" xml:space="preserve">−2</text>
<text x="1624.7" y="597.0" font-size="20.83" fill="#404e64" text-anchor="middle" xml:space="preserve">0</text>
<text x="1721.5" y="597.0" font-size="20.83" fill="#404e64" text-anchor="middle" xml:space="preserve">2</text>
<text x="1818.3" y="597.0" font-size="20.83" fill="#404e64" text-anchor="middle" xml:space="preserve">4</text>
<text x="1366.7" y="574.0" font-size="20.83" fill="#404e64" text-anchor="end" xml:space="preserve">0.0</text>
<text x="1366.7" y="516.5" font-size="20.83" fill="#404e64" text-anchor="end" xml:space="preserve">0.1</text>
<text x="1366.7" y="459.0" font-size="20.83" fill="#404e64" text-anchor="end" xml:space="preserve">0.2</text>
<text x="1366.7" y="401.6" font-size="20.83" fill="#404e64" text-anchor="end" xml:space="preserve">0.3</text>
<text x="1366.7" y="344.1" font-size="20.83" fill="#404e64" text-anchor="end" xml:space="preserve">0.4</text>
<text x="1366.7" y="286.6" font-size="20.83" fill="#404e64" text-anchor="end" xml:space="preserve">0.5</text>
<text x="1366.7" y="229.1" font-size="20.83" fill="#404e64" text-anchor="end" xml:space="preserve">0.6</text>
<text x="1624.5" y="624.5" font-size="22.9" fill="#404e64" text-anchor="middle" xml:space="preserve">x</text>
<text transform="translate(1324.8,411.97) rotate(-90)" font-size="22.9" fill="#404e64" letter-spacing="0.116">density</text>
<rect x="1730.7" y="190.3" width="128.0" height="63.29999999999998" rx="3.5" fill="#ffffff" fill-opacity="0.92" stroke="#e2e8f0" stroke-width="1.4"/>
<rect x="1738" y="200.8" width="34" height="11.4" fill="#2563eb" fill-opacity="0.5"/>
<rect x="1738" y="227.2" width="34" height="11.4" fill="#ef4444" fill-opacity="0.45"/>
<text x="1786.1" y="211.6" font-size="16.67" fill="#1e293b" xml:space="preserve">data</text>
<text x="1786.1" y="238.6" font-size="16.67" fill="#1e293b" xml:space="preserve">noise</text>
<text x="1510.57" y="123.9" font-size="22.9" fill="#1e293b" letter-spacing="0.291" xml:space="preserve">Score-based diffusion</text>
<rect x="123.5" y="786.5" width="1744.0" height="41.700000000000045" fill="#e0e7ff"/>
<path d="M122.75,786.5 H1868.25 M122.75,828.2 H1868.25 M122.75,871.3 H1868.25 M122.75,913.2 H1868.25 M122.75,956.4 H1868.25 M122.75,998.4 H1868.25 M122.75,1041.3 H1868.25 M123.5,786.5 V1041.3 M437.5,786.5 V1041.3 M890.5,786.5 V1041.3 M1413.5,786.5 V1041.3 M1867.5,786.5 V1041.3 " stroke="#000000" stroke-width="1.5" fill="none"/>
<text x="154.13" y="811.7" font-size="20.83" fill="#1e293b" letter-spacing="0.026" xml:space="preserve">Topic</text>
<text x="153.38" y="855.2" font-size="20.83" fill="#2563eb" letter-spacing="-0.202" xml:space="preserve">Neural ODE</text>
<text x="154.18" y="897.3" font-size="20.83" fill="#7c3aed" letter-spacing="-0.082" xml:space="preserve">PINN</text>
<text x="153.46" y="939.5" font-size="20.83" fill="#10b981" letter-spacing="0.214" xml:space="preserve">Score-based diffusion</text>
<text x="153.41" y="981.8" font-size="20.83" fill="#ef4444" letter-spacing="0.217" xml:space="preserve">Optimal transport</text>
<text x="153.38" y="1024.6" font-size="20.83" fill="#06b6d4" letter-spacing="0.083" xml:space="preserve">Hamiltonian net</text>
<text x="481.88" y="811.7" font-size="20.83" fill="#1e293b" letter-spacing="0.099" xml:space="preserve">Equation</text>
<text x="940.99" y="811.7" font-size="20.83" fill="#1e293b" letter-spacing="-0.113" xml:space="preserve">Use of ODE/SDE</text>
<text x="941.56" y="855.2" font-size="20.83" fill="#1e293b" letter-spacing="0.280" xml:space="preserve">Continuous-depth network; adjoint backprop</text>
<text x="941.18" y="897.3" font-size="20.83" fill="#1e293b" letter-spacing="-0.078" xml:space="preserve">Penalty enforces ODE/PDE on neural net</text>
<text x="941.18" y="939.5" font-size="20.83" fill="#1e293b" letter-spacing="0.025" xml:space="preserve">Forward noise + learned reverse drift</text>
<text x="941.18" y="981.8" font-size="20.83" fill="#1e293b" letter-spacing="0.239" xml:space="preserve">Flow matching; continuous transport map</text>
<text x="942.35" y="1024.6" font-size="20.83" fill="#1e293b" letter-spacing="0.060" xml:space="preserve">Architectural prior on conserved energy</text>
<text x="1459.50" y="811.7" font-size="20.83" fill="#1e293b" letter-spacing="-0.072" xml:space="preserve">Where it appears</text>
<text x="1459.13" y="855.2" font-size="20.83" fill="#1e293b" letter-spacing="0.068" xml:space="preserve">Time-series, normalising flows</text>
<text x="1458.37" y="897.3" font-size="20.83" fill="#1e293b" letter-spacing="0.123" xml:space="preserve">Inverse problems, physics ML</text>
<text x="1458.37" y="939.5" font-size="20.83" fill="#1e293b" letter-spacing="0.158" xml:space="preserve">Image / audio / molecule generation</text>
<text x="1458.56" y="981.8" font-size="20.83" fill="#1e293b" letter-spacing="0.021" xml:space="preserve">Generative modelling, alignment</text>
<text x="1458.58" y="1024.6" font-size="20.83" fill="#1e293b" letter-spacing="0.132" xml:space="preserve">Mechanical systems, MD</text>
<text font-family='"DejaVu Sans", sans-serif' font-size="22.9" fill="#1e293b"><tspan x="323.09" y="143.17">̇</tspan><tspan x="308.70" y="150.62" font-style="italic">h</tspan><tspan x="327.65" y="150.62">=</tspan><tspan x="351.28" y="150.62" font-style="italic">f</tspan><tspan x="359.33" y="154.40" font-style="italic" font-size="16.0">θ</tspan><tspan x="369.76" y="150.62">(</tspan><tspan x="378.68" y="150.62" font-style="italic">h</tspan><tspan x="393.18" y="150.62">,</tspan><tspan x="404.91" y="150.62" font-style="italic">t</tspan><tspan x="413.88" y="150.62">)</tspan></text>
<text font-family='"DejaVu Sans", sans-serif' font-size="22.9" fill="#1e293b"><tspan x="903.30" y="151.27" font-style="italic">L</tspan><tspan x="920.50" y="151.27">=</tspan><tspan x="944.12" y="151.27" font-style="italic">L</tspan><tspan x="956.87 967.03 976.85 983.12" y="155.04" font-size="16.0">data</tspan><tspan x="998.02" y="151.27">+</tspan><tspan x="1021.64 1035.18" y="151.27" font-style="italic">λL</tspan><tspan x="1047.93 1058.09 1068.24 1077.72" y="155.04" font-size="16.0">phys</tspan></text>
<text font-family='"DejaVu Sans", sans-serif' font-size="22.9" fill="#1e293b"><tspan x="1536.00 1550.52" y="151.17" font-style="italic">dX</tspan><tspan x="1570.65" y="151.17">=</tspan><tspan x="1594.27 1606.04 1620.56" y="151.17" font-style="italic">fdt</tspan><tspan x="1633.98" y="151.17">+</tspan><tspan x="1657.61 1675.84 1690.36" y="151.17" font-style="italic">gdW</tspan></text>
<text font-family='"DejaVu Sans", sans-serif' font-size="20.83" fill="#1e293b"><tspan x="496.08" y="849.75">̇</tspan><tspan x="482.60" y="856.54" font-style="italic">h</tspan><tspan x="499.90" y="856.54">=</tspan><tspan x="521.46" y="856.54" font-style="italic">f</tspan><tspan x="528.80" y="859.99" font-style="italic" font-size="14.6">θ</tspan><tspan x="538.32" y="856.54">(</tspan><tspan x="546.46" y="856.54" font-style="italic">h</tspan><tspan x="559.69" y="856.54">,</tspan><tspan x="570.40" y="856.54" font-style="italic">t</tspan><tspan x="578.58" y="856.54">)</tspan></text>
<text font-family='"DejaVu Sans", sans-serif' font-size="20.83" fill="#1e293b"><tspan x="482.60" y="896.35" font-style="italic">L</tspan><tspan x="498.30" y="896.35">=</tspan><tspan x="519.85" y="896.35" font-style="italic">L</tspan><tspan x="531.49 540.76 549.71 555.44" y="899.80" font-size="14.6">data</tspan><tspan x="569.04" y="896.35">+</tspan><tspan x="590.60 602.95" y="896.35" font-style="italic">λL</tspan><tspan x="614.58 623.86 633.12 641.77" y="899.80" font-size="14.6">phys</tspan></text>
<text font-family='"DejaVu Sans", sans-serif' font-size="20.83" fill="#1e293b"><tspan x="482.60 495.85" y="939.15" font-style="italic">dX</tspan><tspan x="514.22" y="939.15">=</tspan><tspan x="535.78 546.51 559.77" y="939.15" font-style="italic">fdt</tspan><tspan x="572.02" y="939.15">+</tspan><tspan x="593.57 610.21 623.47" y="939.15" font-style="italic">gdW</tspan></text>
<text font-family='"DejaVu Sans", sans-serif' font-size="20.83" fill="#1e293b"><tspan x="482.60" y="982.74">∂</tspan><tspan x="493.60" y="986.18" font-style="italic" font-size="14.6">t</tspan><tspan x="499.90" y="982.74" font-style="italic">ρ</tspan><tspan x="517.22 538.77 556.81 567.51" y="982.74">+∇⋅(</tspan><tspan x="575.65 588.90" y="982.74" font-style="italic">ρv</tspan><tspan x="601.26 613.47 635.03" y="982.74">)=0</tspan></text>
<text font-family='"DejaVu Sans", sans-serif' font-size="20.83" fill="#1e293b"><tspan x="494.65" y="1021.35">̇</tspan><tspan x="482.60" y="1023.96" font-style="italic">q</tspan><tspan x="499.92 521.48" y="1023.96">=∂</tspan><tspan x="532.47" y="1027.40" font-style="italic" font-size="14.6">p</tspan><tspan x="542.32" y="1023.96" font-style="italic">H</tspan><tspan x="558.02" y="1023.96">,</tspan><tspan x="588.76" y="1021.35">̇</tspan><tspan x="575.50" y="1023.96" font-style="italic">p</tspan><tspan x="592.82 618.44 640.00" y="1023.96">=−∂</tspan><tspan x="650.99" y="1027.40" font-style="italic" font-size="14.6">q</tspan><tspan x="660.84" y="1023.96" font-style="italic">H</tspan></text>
<text font-family='"DejaVu Sans", sans-serif' font-size="16.67" fill="#1e293b"><tspan x="1823.50" y="211.12" font-style="italic">p</tspan><tspan x="1834.05" y="213.90" font-size="11.7">0</tspan></text>
<text font-family='"DejaVu Sans", sans-serif' font-size="16.67" fill="#1e293b"><tspan x="1830.40" y="238.12" font-style="italic">p</tspan><tspan x="1840.95" y="240.90" font-style="italic" font-size="11.7">T</tspan></text>
</svg>
</body></html>
